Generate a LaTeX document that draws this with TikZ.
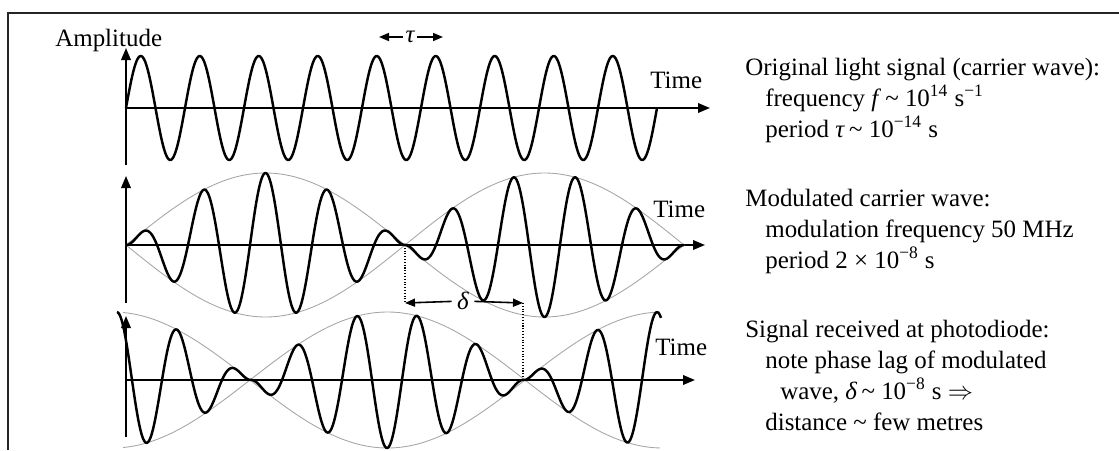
\documentclass[tikz,border=0pt]{standalone}
\usepackage{fontspec}
\setmainfont{Liberation Serif}
\usetikzlibrary{arrows.meta}

\tikzset{
  axis/.style={line width=1.1pt, -{Triangle[length=2.4mm,width=1.9mm]}},
  wave/.style={line width=1.4pt, line join=round},
  envelope/.style={line width=0.5pt, gray!70},
  span/.style={line width=0.9pt, -{Triangle[length=2mm,width=1.6mm]}},
  guide/.style={densely dotted, line width=0.6pt},
  lbl/.style={inner sep=0pt, font=\fontsize{14.2}{17.6}\selectfont},
}

\begin{document}
\begin{tikzpicture}[x=0.02cm, y=-0.02cm]
    \useasboundingbox (0,0) rectangle (1119,450);
    % Frame (open at the right and bottom)
    \draw[line width=1.1pt, black!85] (8,450) -- (8,13) -- (1119,13);

    % Axes of the three panels
    \coordinate (o1) at (126,108);
    \coordinate (o2) at (126,245);
    \coordinate (o3) at (126,380);
    \draw[axis] (126,165) -- (126,48);
    \draw[axis] (o1) -- (710,108);
    \draw[axis] (126,303) -- (126,176);
    \draw[axis] (o2) -- (705,245);
    \draw[axis] (126,437) -- (126,316);
    \draw[axis] (o3) -- (695,380);

    % Carrier wave
    \draw[wave] plot[domain=126:657, samples=500] (\x, {108-52*sin((\x-126)/59*360)});

    % Modulated carrier wave and its envelope
    \draw[envelope] plot[domain=126:684, samples=200] (\x, {245-72*abs(sin((\x-126)/279*180))});
    \draw[envelope] plot[domain=126:684, samples=200] (\x, {245+72*abs(sin((\x-126)/279*180))});
    \draw[wave] plot[domain=126:684, samples=600] (\x, {245-72*abs(sin((\x-126)/279*180))*sin((\x-126)/62*360)});

    % Received signal, lagging by delta
    \draw[envelope] plot[domain=123:660, samples=200] (\x, {380-68*abs(sin((\x-250)/275*180))});
    \draw[envelope] plot[domain=123:660, samples=200] (\x, {380+68*abs(sin((\x-250)/275*180))});
    \draw[wave] plot[domain=117:661, samples=600] (\x, {380-68*abs(sin((\x-250)/275*180))*cos((\x-177)/60*360)});

    % Axis labels
    \node[lbl, anchor=base west] (amp) at (55,46) {Amplitude};
    \node[lbl, anchor=base west] (time1) at (650,88) {Time};
    \node[lbl, anchor=base west] (time2) at (653,217) {Time};
    \node[lbl, anchor=base west] (time3) at (655,355) {Time};

    % Period tau
    \node[lbl, inner sep=1.5pt] (tau) at (410,37) {\itshape τ};
    \coordinate (tauL) at (379,37);
    \coordinate (tauR) at (443,37);
    \draw[span] (tau) -- (tauL);
    \draw[span] (tau) -- (tauR);

    % Phase lag delta
    \coordinate (z2) at (405,245);
    \coordinate (z3) at (523,380);
    \coordinate (dL) at (405,303);
    \coordinate (dR) at (523,303);
    \node[lbl, inner sep=3pt] (delta) at (463,301) {\itshape δ};
    \draw[guide] (z2) -- (dL);
    \draw[guide] (dR) -- (z3);
    \draw[span] (delta) -- (dL);
    \draw[span] (delta) -- (dR);

    % Notes on the right (anchored at the baseline of their last line)
    \node[lbl, anchor=base west, align=left] (note1) at (745,137)
        {Original light signal (carrier wave):\\
         \hspace*{0.4cm}frequency \textit{f}\,\textasciitilde\ 10\textsuperscript{14} s\textsuperscript{−1}\\
         \hspace*{0.4cm}period \textit{τ}\,\textasciitilde\ 10\textsuperscript{−14} s};
    \node[lbl, anchor=base west, align=left] (note2) at (745,268)
        {Modulated carrier wave:\\
         \hspace*{0.4cm}modulation frequency 50 MHz\\
         \hspace*{0.4cm}period 2 × 10\textsuperscript{−8} s};
    \node[lbl, anchor=base west, align=left] (note3) at (745,430)
        {Signal received at photodiode:\\
         \hspace*{0.4cm}note phase lag of modulated\\
         \hspace*{0.7cm}wave, \textit{δ}\,\textasciitilde\ 10\textsuperscript{−8} s $\Rightarrow$\\
         \hspace*{0.4cm}distance \textasciitilde\ few metres};
\end{tikzpicture}
\end{document}
